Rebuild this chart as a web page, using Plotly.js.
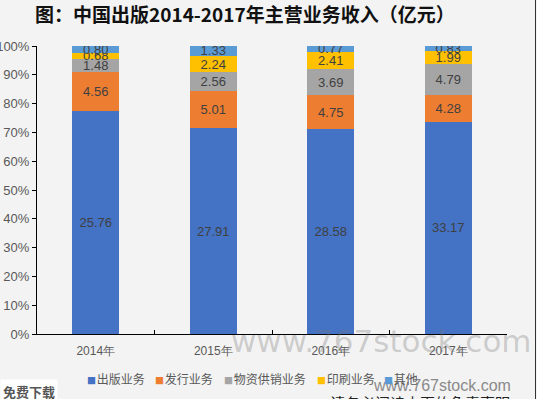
<!DOCTYPE html>
<html>
<head>
<meta charset="utf-8">
<script src="https://cdn.plot.ly/plotly-3.0.1.min.js"></script>
<style>html,body{margin:0;padding:0;background:#f3f3f3;}#chart{width:537px;height:399px;}</style>
</head>
<body>
<div id="chart"></div>
<script>
const categories = ['2014年', '2015年', '2016年', '2017年'];
const seriesNames = ['出版业务', '发行业务', '物资供销业务', '印刷业务', '其他'];
const publishing = [25.76, 27.91, 28.58, 33.17];
const distribution = [4.56, 5.01, 4.75, 4.28];
const supplies = [1.48, 2.56, 3.69, 4.79];
const printing = [0.68, 2.24, 2.41, 1.99];
const others = [0.80, 1.33, 0.77, 0.83];
const colors = ['#4472C4', '#ED7D31', '#A5A5A5', '#FFC000', '#5B9BD5'];

const allSeries = [publishing, distribution, supplies, printing, others];
const font = '"Noto Sans CJK SC", "Liberation Sans", Arial, sans-serif';

// plot area in pixels
const PL = 37, PR = 507, PT = 46, PB = 334;
const px = x => (x - PL) / (PR - PL);
const py = y => (PB - y) / (PB - PT);

const traces = allSeries.map((vals, i) => ({
  type: 'bar',
  name: seriesNames[i],
  x: categories,
  y: vals,
  text: vals.map(v => v.toFixed(2)),
  texttemplate: '%{text}',
  textposition: 'inside',
  insidetextanchor: 'middle',
  textangle: 0,
  constraintext: 'none',
  textfont: {family: 'Liberation Sans, Arial, sans-serif', size: 13, color: '#404040'},
  marker: {color: colors[i], line: {width: 0}},
  hoverinfo: 'skip',
  showlegend: false
}));

// legend drawn as annotations (left edge of each swatch, in pixels)
const legendX = [86, 154, 223, 316, 383];
const legendAnnotations = seriesNames.map((name, i) => ({
  text: '<span style="font-size:9px;color:' + colors[i] + '">■</span><span style="font-size:3px"> </span>' + name,
  xref: 'paper', yref: 'paper',
  x: px(legendX[i] - 1), y: py(378),
  xanchor: 'left', yanchor: 'middle',
  showarrow: false,
  font: {family: font, size: 12, color: '#595959'}
}));

const layout = {
  width: 537, height: 399,
  margin: {l: PL, r: 537 - PR, t: PT, b: 399 - PB, autoexpand: false},
  paper_bgcolor: '#f3f3f3',
  plot_bgcolor: '#f3f3f3',
  barmode: 'stack',
  barnorm: 'percent',
  bargap: 0.6,
  uniformtext: {mode: 'show', minsize: 13},
  showlegend: false,
  title: {
    text: '<b>图：中国出版2014-2017年主营业务收入（亿元）</b>',
    font: {family: font, size: 19, color: '#111111'},
    xref: 'container', x: 35/537, xanchor: 'left',
    yref: 'container', y: 1 - 15/399, yanchor: 'middle'
  },
  xaxis: {
    type: 'category',
    showline: true, linecolor: '#000000', linewidth: 1,
    ticks: 'inside', tickson: 'boundaries', ticklen: 4, tickcolor: '#000000',
    ticklabelstandoff: 6,
    tickfont: {family: 'Liberation Sans, Arial, sans-serif', size: 12, color: '#595959'},
    showgrid: false, zeroline: false, fixedrange: true
  },
  yaxis: {
    range: [0, 100],
    dtick: 10, tick0: 0,
    ticksuffix: '%',
    showline: true, linecolor: '#000000', linewidth: 1,
    ticks: 'outside', ticklen: 4, tickcolor: '#000000',
    tickfont: {family: 'Liberation Sans, Arial, sans-serif', size: 13, color: '#595959'},
    showgrid: false, zeroline: false, fixedrange: true
  },
  shapes: [
    {type: 'line', xref: 'paper', yref: 'paper',
     x0: px(535.5), x1: px(535.5), y0: py(399), y1: py(0),
     line: {color: '#333333', width: 1}}
  ],
  annotations: [
    {text: 'www.767stock.com', xref: 'paper', yref: 'paper',
     x: px(381), y: py(341), xanchor: 'center', yanchor: 'middle',
     showarrow: false, font: {family: 'DejaVu Sans, sans-serif', size: 31, color: 'rgba(120,120,120,0.32)'}},
    {text: 'www.767stock.com', xref: 'paper', yref: 'paper',
     x: px(442), y: py(385), xanchor: 'center', yanchor: 'middle',
     showarrow: false, font: {family: 'Liberation Sans, Arial, sans-serif', size: 16, color: '#8a8a8a'}},
    {text: '<b>免费下载</b>', xref: 'paper', yref: 'paper',
     x: px(0), y: py(391), xanchor: 'left', yanchor: 'middle',
     showarrow: false, bgcolor: '#ffffff', borderpad: 2,
     font: {family: font, size: 13, color: '#555555'}},
    {text: '请务必阅读末页的免责声明', xref: 'paper', yref: 'paper',
     x: px(328), y: py(402), xanchor: 'left', yanchor: 'middle',
     showarrow: false, font: {family: font, size: 15, color: '#222222'}}
  ].concat(legendAnnotations)
};

Plotly.newPlot('chart', traces, layout, {staticPlot: true, displayModeBar: false});
</script>
</body>
</html>
